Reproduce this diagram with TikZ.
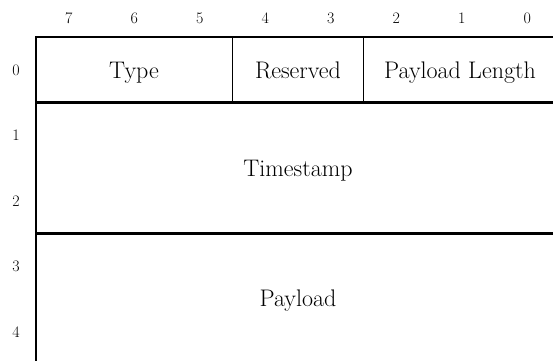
\documentclass[tikz,border=0pt]{standalone}
\begin{document}
\begin{tikzpicture}[x=1pt,y=-1pt,
  field/.style={font=\fontsize{24}{28}\selectfont, inner sep=0pt, anchor=base},
  bitno/.style={font=\fontsize{16}{18}\selectfont, inner sep=0pt, anchor=base},
  edge/.style={line width=1.8pt},
  rowline/.style={line width=2.4pt}]
\useasboundingbox (0,0) rectangle (553,360);
\clip (0,0) rectangle (553,360);
% grid corners
\coordinate (tl) at (36,37);
\coordinate (tr) at (560,37);
\coordinate (bl) at (36,365);
\coordinate (d1t) at (232.5,37);
\coordinate (d1b) at (232.5,102.5);
\coordinate (d2t) at (363.5,37);
\coordinate (d2b) at (363.5,102.5);
\coordinate (r1l) at (36,102.5);
\coordinate (r1r) at (560,102.5);
\coordinate (r3l) at (36,233.5);
\coordinate (r3r) at (560,233.5);
% outline and dividers
\draw[edge] (tr) -- (tl) -- (bl);
\draw[edge] (d1t) -- (d1b);
\draw[edge] (d2t) -- (d2b);
\draw[rowline] (r1l) -- (r1r);
\draw[rowline] (r3l) -- (r3r);
% bit numbers
\foreach \b [count=\i from 0] in {7,6,5,4,3,2,1,0}
  \node[bitno] (bit\b) at (68.75+65.5*\i,23.5) {\b};
% row numbers
\foreach \r in {0,...,4}
  \node[bitno] (row\r) at (16,75+65.5*\r) {\r};
% field labels
\node[field] (type) at (134,78) {Type};
\node[field] (reserved) at (298,78) {Reserved};
\node[field] (plen) at (460,78) {Payload Length};
\node[field] (ts) at (298,176) {Timestamp};
\node[field] (payload) at (298,306) {Payload};
\end{tikzpicture}
\end{document}
